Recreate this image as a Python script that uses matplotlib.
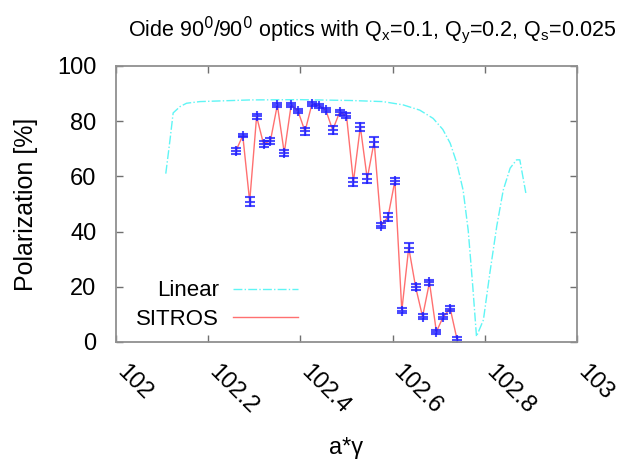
import matplotlib
matplotlib.use("Agg")
import matplotlib.pyplot as plt

plt.rcParams["font.family"] = ["Liberation Sans", "DejaVu Sans"]

# SITROS tracking results (a*gamma, polarization %, error %)
sitros_x = [102.260, 102.275, 102.290, 102.305, 102.320, 102.335, 102.350, 102.365,
            102.380, 102.395, 102.410, 102.425, 102.440, 102.455, 102.470, 102.485,
            102.500, 102.515, 102.530, 102.545, 102.560, 102.575, 102.590, 102.605,
            102.620, 102.635, 102.650, 102.665, 102.680, 102.695, 102.710, 102.725,
            102.740]
sitros_p = [69.2, 74.8, 50.9, 81.7, 71.8, 72.9, 85.9, 68.5, 85.9, 83.6, 76.3,
            86.2, 85.6, 84.1, 76.8, 83.2, 82.0, 58.0, 78.0, 59.2, 72.6, 42.2,
            45.3, 58.4, 11.4, 34.2, 19.9, 9.2, 21.6, 3.7, 9.2, 12.1, 0.8]
sitros_err = [1.0, 0.7, 1.5, 0.8, 1.0, 1.0, 0.8, 1.0, 0.8, 0.8, 1.2, 0.8, 0.8,
              0.8, 1.5, 0.8, 1.0, 1.5, 1.5, 1.5, 1.8, 1.0, 1.5, 1.0, 1.0, 1.5,
              1.2, 0.8, 0.8, 0.8, 0.8, 0.8, 1.0]

# linear theory curve
lin_x = [102.108, 102.117, 102.124, 102.139, 102.153, 102.182, 102.218, 102.291,
         102.399, 102.508, 102.579, 102.623, 102.659, 102.688, 102.709, 102.725,
         102.739, 102.753, 102.764, 102.774, 102.782, 102.797, 102.811, 102.826,
         102.840, 102.855, 102.869, 102.876, 102.889]
lin_p = [61.0, 73.0, 83.0, 85.3, 86.5, 87.1, 87.3, 87.7, 87.8, 87.5, 87.1, 85.9,
         84.0, 81.0, 77.0, 72.0, 65.0, 55.0, 40.5, 20.0, 2.0, 8.0, 25.0, 42.0,
         55.0, 63.0, 66.0, 66.0, 54.0]

fig = plt.figure(figsize=(6.26, 4.66), dpi=100)
ax = fig.add_axes([0.1853, 0.2661, 0.7364, 0.5923])

ax.plot(lin_x, lin_p, color="#5ff5f5", lw=1.0, ls="-.", label="Linear")
ax.plot(sitros_x, sitros_p, color="#ff7070", lw=1.0, label="SITROS")
ax.errorbar(sitros_x, sitros_p, yerr=sitros_err, fmt="+", color="#2020ff",
            ms=7, mew=1.5, elinewidth=1.0, capsize=3.5, alpha=0.8)

ax.set_xlim(102, 103)
ax.set_ylim(0, 100)
ax.set_xticks([102, 102.2, 102.4, 102.6, 102.8, 103])
ax.set_xticklabels(["102", "102.2", "102.4", "102.6", "102.8", "103"],
                   rotation=-45, ha="left", va="baseline", rotation_mode="anchor")
ax.set_yticks([0, 20, 40, 60, 80, 100])
ax.tick_params(direction="in", top=True, right=True, labelsize=17, length=5,
               color="#707070", width=1.0)
ax.tick_params(axis="x", pad=22)
ax.tick_params(axis="y", pad=14)
for s in ax.spines.values():
    s.set_color("#909090")
    s.set_linewidth(1.3)

ax.set_xlabel("a*γ", fontsize=17, labelpad=14)
ax.set_ylabel("Polarization [%]", fontsize=18, labelpad=14)
fig.text(0.594, 0.935, "Oide 90$^0$/90$^0$ optics with Q$_\\mathregular{x}$=0.1, "
         "Q$_\\mathregular{y}$=0.2, Q$_\\mathregular{s}$=0.025",
         ha="center", va="center", fontsize=15.5)

ax.legend(loc="lower left", bbox_to_anchor=(0.0, -0.03), frameon=False,
          fontsize=16, markerfirst=False, handlelength=2.9, handletextpad=0.65,
          labelspacing=0.35, borderaxespad=0.5)

fig.savefig("out.png", dpi=100)
